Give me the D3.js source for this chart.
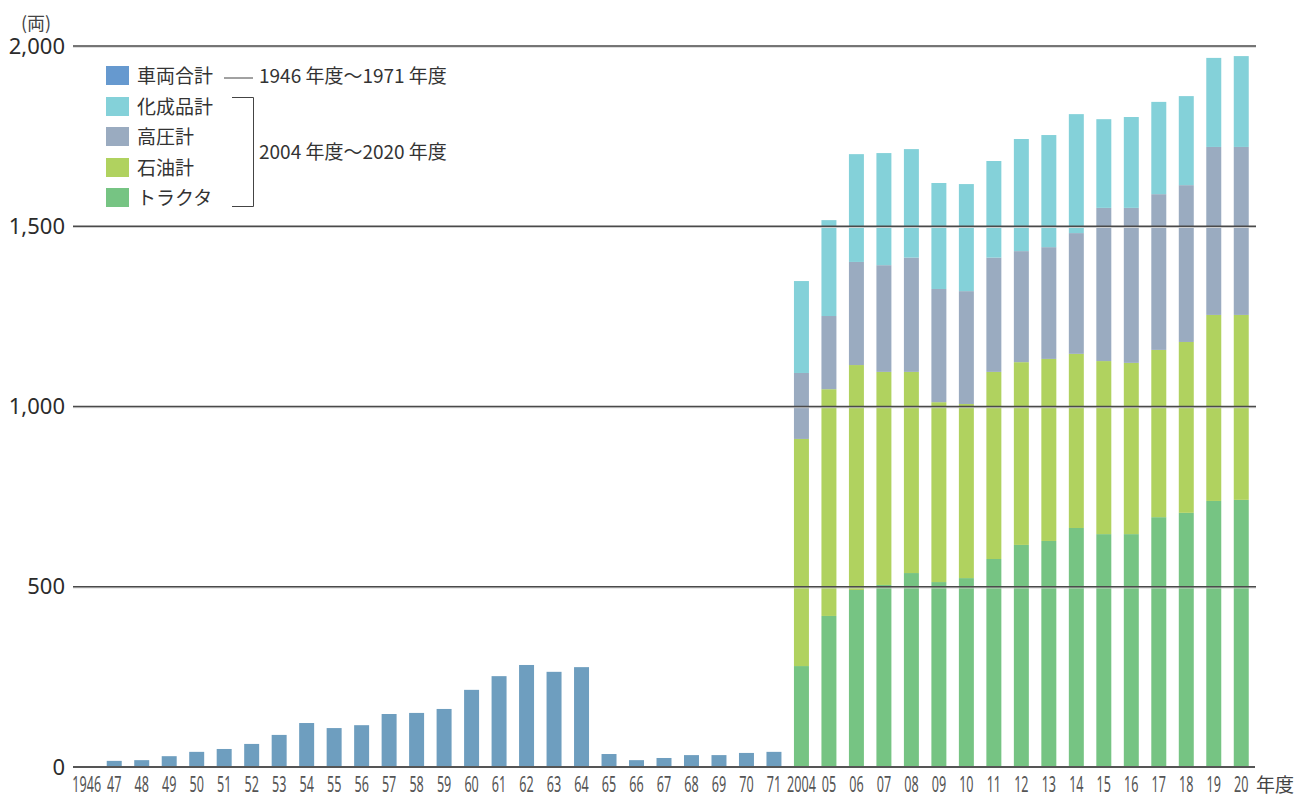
<!DOCTYPE html>
<html lang="ja">
<head>
<meta charset="utf-8">
<title>車両台数の推移</title>
<script src="https://cdn.jsdelivr.net/npm/d3@7"></script>
<style>
  html, body { margin: 0; padding: 0; background: #ffffff; }
  svg { display: block; font-family: "Noto Sans CJK JP", "Noto Sans", sans-serif; }
</style>
</head>
<body>
<svg id="chart" width="1295" height="796"></svg>
<script>
// 1946–1971年度: 車両合計
const oldYears = ["1946","47","48","49","50","51","52","53","54","55","56","57","58","59",
                  "60","61","62","63","64","65","66","67","68","69","70","71"];
const oldTotals = [0, 17, 19, 30, 42, 50, 64, 89, 122, 108, 116, 147, 150, 161,
                   214, 252, 283, 264, 277, 36, 19, 25, 33, 33, 39, 42];

// 2004–2020年度: 種別ごとの内訳
const newYears = ["2004","05","06","07","08","09","10","11","12","13","14","15","16","17","18","19","20"];
const tractor      = [280, 419, 491, 505, 538, 513, 524, 577, 616, 627, 663, 646, 646, 693, 705, 738, 741];
const oil          = [630, 629, 624, 591, 558, 499, 483, 519, 507, 505, 483, 480, 475, 464, 474, 516, 513];
const highPressure = [183, 203, 286, 296, 317, 314, 313, 317, 308, 310, 335, 425, 430, 432, 435, 466, 466];
const chemical     = [255, 266, 299, 311, 301, 294, 297, 268, 311, 311, 330, 246, 252, 256, 247, 247, 252];

const yTicks = [0, 500, 1000, 1500, 2000];
const seriesKeys   = ["tractor", "oil", "highPressure", "chemical"];
const seriesNames  = ["トラクタ", "石油計", "高圧計", "化成品計"];
const seriesColors = ["#76c483", "#b0d25f", "#9aabc0", "#84d1d9"];
const oldColor = "#6e9ebf";
const oldLegendColor = "#6699cf";

const svg = d3.select("#chart");
const plotLeft = 73, plotRight = 1255, plotTop = 46, plotBottom = 767;

const allYears = oldYears.concat(newYears);
const x = d3.scaleBand()
  .domain(allYears)
  .range([plotLeft, plotRight])
  .paddingInner(0.455)
  .paddingOuter(0.2275);

const y = d3.scaleLinear().domain([0, 2000]).range([plotBottom, plotTop]);

// 旧データの棒
svg.append("g")
  .selectAll("rect")
  .data(oldYears.map((yr, i) => ({ yr, v: oldTotals[i] })))
  .join("rect")
  .attr("x", d => x(d.yr))
  .attr("y", d => y(d.v))
  .attr("width", x.bandwidth())
  .attr("height", d => y(0) - y(d.v))
  .attr("fill", oldColor);

// 積み上げ棒
const rows = newYears.map((yr, i) => ({
  yr,
  tractor: tractor[i],
  oil: oil[i],
  highPressure: highPressure[i],
  chemical: chemical[i]
}));
const stacked = d3.stack().keys(seriesKeys)(rows);

svg.append("g")
  .selectAll("g")
  .data(stacked)
  .join("g")
  .attr("fill", (d, i) => seriesColors[i])
  .selectAll("rect")
  .data(d => d)
  .join("rect")
  .attr("x", d => x(d.data.yr))
  .attr("y", d => y(d[1]))
  .attr("width", x.bandwidth())
  .attr("height", d => y(d[0]) - y(d[1]));

// 目盛線(棒の上に描く)
const grid = svg.append("g");
yTicks.filter(t => t > 0).forEach(t => {
  grid.append("line")
    .attr("x1", plotLeft).attr("x2", plotRight + 1)
    .attr("y1", y(t) + 1.2).attr("y2", y(t) + 1.2)
    .attr("stroke", "#cfcfcf").attr("stroke-width", 1);
  grid.append("line")
    .attr("x1", plotLeft).attr("x2", plotRight + 1)
    .attr("y1", y(t)).attr("y2", y(t))
    .attr("stroke", "#4a4a4a").attr("stroke-width", 1.3);
});

// 横軸の基線
svg.append("line")
  .attr("x1", plotLeft).attr("x2", plotRight)
  .attr("y1", plotBottom).attr("y2", plotBottom)
  .attr("stroke", "#555555").attr("stroke-width", 2);

// 縦軸ラベル
const yAxis = d3.axisLeft(y)
  .tickValues(yTicks)
  .tickSize(0)
  .tickPadding(0)
  .tickFormat(d3.format(","));
const yAxisG = svg.append("g")
  .attr("transform", `translate(65,0)`)
  .call(yAxis);
yAxisG.select(".domain").remove();
yAxisG.selectAll("text")
  .attr("font-size", 22)
  .attr("fill", "#2b2b2b")
  .attr("dy", "0.32em")
  .style("font-family", "'Noto Sans', 'Noto Sans CJK JP', sans-serif");

// 横軸ラベル(詰めた数字)
svg.append("g")
  .selectAll("text")
  .data(allYears)
  .join("text")
  .attr("transform", d => `translate(${x(d) + x.bandwidth() / 2},792) scale(0.6,1)`)
  .attr("text-anchor", "middle")
  .attr("font-size", 21)
  .attr("fill", "#555555")
  .style("font-family", "'Noto Sans', sans-serif")
  .text(d => d);

svg.append("text")
  .attr("x", 1256).attr("y", 792)
  .attr("font-size", 19)
  .attr("fill", "#444444")
  .text("年度");

// 単位
svg.append("text")
  .attr("x", 21).attr("y", 30)
  .attr("font-size", 18)
  .attr("fill", "#444444")
  .text("(両)");

// 凡例
const legend = svg.append("g");
const legendItems = [
  { name: "車両合計", color: oldLegendColor },
  { name: seriesNames[3], color: seriesColors[3] },
  { name: seriesNames[2], color: seriesColors[2] },
  { name: seriesNames[1], color: seriesColors[1] },
  { name: seriesNames[0], color: seriesColors[0] }
];
const rowY = [66, 97, 127, 158, 188];
legendItems.forEach((item, i) => {
  legend.append("rect")
    .attr("x", 106).attr("y", rowY[i])
    .attr("width", 23).attr("height", 19)
    .attr("fill", item.color);
  legend.append("text")
    .attr("x", 137).attr("y", rowY[i] + 10)
    .attr("dy", "0.36em")
    .attr("font-size", 19)
    .attr("fill", "#333333")
    .text(item.name);
});

// 期間の注記
legend.append("line")
  .attr("x1", 224).attr("x2", 253)
  .attr("y1", 78).attr("y2", 78)
  .attr("stroke", "#444444").attr("stroke-width", 1);
legend.append("text")
  .attr("x", 259).attr("y", 76)
  .attr("dy", "0.36em")
  .attr("font-size", 19)
  .attr("fill", "#333333")
  .text("1946 年度～1971 年度");

legend.append("path")
  .attr("d", "M232,97.5 H253.5 V206.5 H232")
  .attr("fill", "none")
  .attr("stroke", "#444444")
  .attr("stroke-width", 1);
legend.append("text")
  .attr("x", 259).attr("y", 152)
  .attr("dy", "0.36em")
  .attr("font-size", 19)
  .attr("fill", "#333333")
  .text("2004 年度～2020 年度");
</script>
</body>
</html>
